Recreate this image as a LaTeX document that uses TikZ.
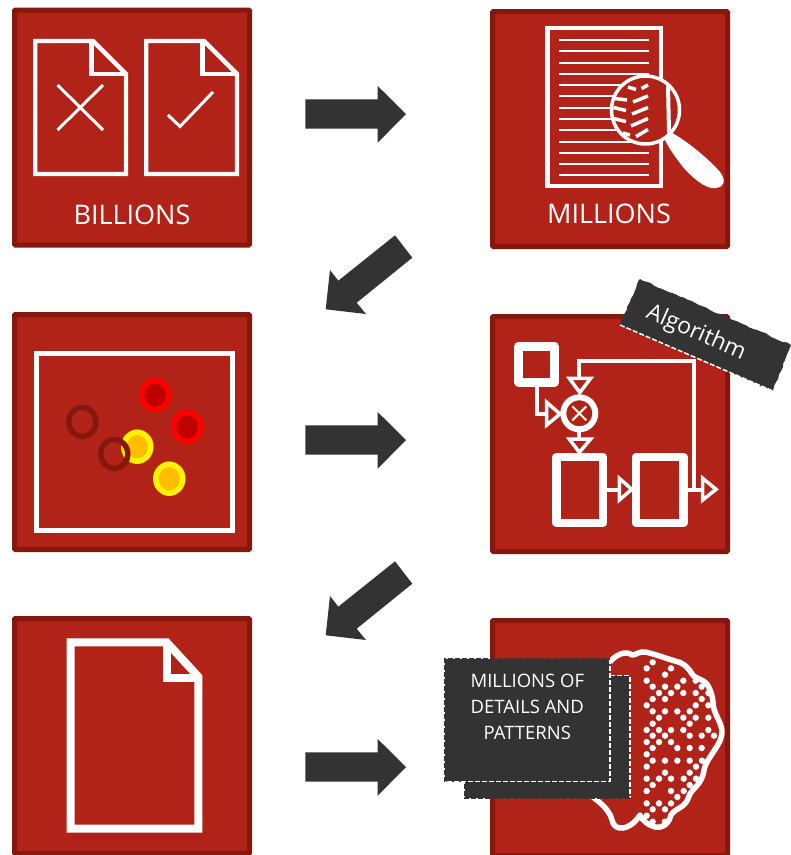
\documentclass[tikz,border=0pt]{standalone}
\usepackage{fontspec}
\setmainfont{Open Sans}
\usetikzlibrary{decorations.pathmorphing}
\definecolor{panelred}{HTML}{B12318}
\definecolor{paneledge}{HTML}{85170D}
\definecolor{slate}{HTML}{333333}
\tikzset{
  panel/.style={rectangle,draw=paneledge,fill=panelred,line width=5pt,rounded corners=1pt,minimum width=235pt,minimum height=235pt,inner sep=0pt,outer sep=0pt},
  bigarrow/.style={fill=slate},
  icon/.style={draw=white,line width=4.3pt,miter limit=10},
  thin/.style={draw=white,line width=4pt,line join=miter},
  tip/.style={draw=white,line width=3.5pt,line join=miter},
  paneltext/.style={text=white,font=\fontsize{27}{32}\selectfont,inner sep=0pt},
  whitedash/.style={draw=white,line width=1.5pt,dash pattern=on 5pt off 2pt},
  darkdash/.style={draw=slate,line width=1.5pt,dash pattern=on 5pt off 2pt},
  ringred/.style={draw=red,fill=red!75!black,line width=5.5pt},
  ringyel/.style={draw=yellow,fill=orange!50!yellow,line width=5.5pt},
  ringdark/.style={draw=paneledge,line width=5.5pt},
}
\begin{document}
\begin{tikzpicture}[x=1pt,y=-1pt]
\clip (0,0) rectangle (791,855);
\fill[white] (0,0) rectangle (791,855);
% panels
\node[panel] (p1) at (132,127.5) {};
\node[panel] (p2) at (610,129) {};
\node[panel] (p3) at (132,432) {};
\node[panel] (p4) at (610,434) {};
\node[panel] (p5) at (132,736) {};
\node[panel] (p6) at (610,738) {};
% block arrows
\foreach \dy in {0,326,653} {
  \fill[bigarrow] (305.3,99.3+\dy) -- (377.7,99.3+\dy) -- (377.7,86+\dy) -- (406,114+\dy) -- (377.7,142.7+\dy) -- (377.7,128.7+\dy) -- (305.3,128.7+\dy) -- cycle;
}
\foreach \dy in {0,326} {
  \fill[bigarrow] (395,235.3+\dy) -- (412.3,257.7+\dy) -- (356.7,302.7+\dy) -- (366,314+\dy) -- (325.7,309.3+\dy) -- (330,270+\dy) -- (338.3,280.7+\dy) -- cycle;
}
% panel 1
\foreach \dx in {0,111} {
  \draw[icon] (35.3+\dx,41) -- (93+\dx,41) -- (126+\dx,74) -- (126+\dx,174) -- (35.3+\dx,174) -- cycle;
  \draw[icon] (91.5+\dx,41) -- (91.5+\dx,74) -- (126+\dx,74);
}
\draw[white,line width=3pt] (57.5,85) -- (103,130) (103,85) -- (57.5,130);
\draw[white,line width=3pt] (168,115) -- (180,126.5) -- (213,92);
\node[paneltext] (t1) at (132,215) {BILLIONS};
% panel 2
\draw[white,line width=4.5pt] (547.5,28) rectangle (661,186);
\foreach \k in {0,...,12} {
  \draw[white,line width=2pt] (559.3,40+11.28*\k) -- (648.7,40+11.28*\k);
}
\fill[panelred] (645.5,110) circle (34pt);
\draw[white,line width=3.5pt] (645.5,110) circle (34pt);
\draw[white,line width=4pt] (668,86) -- (669,132);
\draw[white,line width=3.5pt] (628,87) -- (636,89.5) (641.5,88.5) -- (648,85) (615,98.5) -- (627,100) (633,102) -- (648,96) (613.5,107.5) -- (626,110.5) (632,114) -- (648,107.5) (613.5,118.5) -- (626,121.5) (631,126) -- (648,118.5) (623,133) -- (630,135) (636,136.5) -- (648,129.5);
\fill[white] (668,131) .. controls (680,136) and (705,155) .. (720,172) .. controls (726,180) and (725,187) .. (716,188) .. controls (705,190) and (690,175) .. (683,167) .. controls (676,158) and (670,150) .. (665,140) -- cycle;
\node[paneltext] (t2) at (609,214) {MILLIONS};
% panel 3
\draw[white,line width=5pt] (36,353) rectangle (232,530);
\draw[ringyel] (137.3,446.7) ellipse (13.5pt and 14.5pt);
\draw[ringyel] (169.3,478.7) ellipse (13.5pt and 14.5pt);
\draw[ringred] (155.3,395) ellipse (13.5pt and 14.5pt);
\draw[ringred] (187.3,426.7) ellipse (13.5pt and 14.5pt);
\draw[ringdark] (82.3,422) ellipse (13.5pt and 14.5pt);
\draw[ringdark] (114.3,454) ellipse (13.5pt and 14.5pt);
% panel 4
\draw[white,line width=9pt,line join=round] (518.8,346.2) rectangle (554.5,382.2);
\draw[thin] (536.7,386.7) -- (536.7,414) -- (548,414);
\draw[tip] (546.7,402.3) -- (560,414) -- (546.7,425) -- cycle;
\draw[white,line width=6pt] (579.3,413.3) circle (16pt);
\draw[white,line width=2pt] (572.3,406.3) -- (586.3,420.3) (586.3,406.3) -- (572.3,420.3);
\draw[thin] (579.3,378) -- (579.3,360.7) -- (694.3,360.7) -- (694.3,490);
\draw[tip] (569.3,378.3) -- (590.7,378.3) -- (579.8,392.5) -- cycle;
\draw[thin] (579.3,432) -- (579.3,440);
\draw[tip] (569.3,439) -- (590.7,439) -- (579.3,452.3) -- cycle;
\draw[white,line width=8.7pt,line join=round] (556.7,457) rectangle (603,523);
\draw[white,line width=8.7pt,line join=round] (636,457) rectangle (683.3,523);
\draw[thin] (607.3,490) -- (620,490);
\draw[tip] (619.3,478.3) -- (631.7,489.3) -- (619.3,500) -- cycle;
\draw[thin] (687.7,490) -- (702.7,490);
\draw[tip] (702.7,478.3) -- (716,489.3) -- (702.7,500) -- cycle;
% algorithm label
\coordinate (la) at (640,279);
\coordinate (lb) at (791,345);
\coordinate (lc) at (773,391);
\coordinate (ld) at (620,325);
\fill[slate,decorate,decoration={random steps,segment length=4pt,amplitude=0.8pt}] (la) -- (lb) -- (lc) -- (ld) -- cycle;
\draw[whitedash] (ld) -- (lc);
\node[text=white,rotate=-23.6,font=\fontsize{23}{27}\selectfont,inner sep=0pt] (algo) at (696,333) {Algorithm};
% panel 5
\draw[white,line width=8pt] (70.7,642.3) -- (166.7,642.3) -- (198.3,676.7) -- (198.3,828.7) -- (70.7,828.7) -- cycle;
\draw[white,line width=8pt] (166.7,642.3) -- (166.7,677.7) -- (198.3,677.7);
% panel 6: brain
\draw[white,line width=5.5pt,line join=round] (585,790) .. controls (592,798) and (608,805) .. (612,820) .. controls (614,832) and (630,831) .. (640,815) .. controls (645,826) and (665,836) .. (671,815) .. controls (675,808) and (686,808) .. (689,796) .. controls (692,788) and (702,785) .. (704,770) .. controls (706,758) and (722,745) .. (722,732) .. controls (722,722) and (713,714) .. (713,702) .. controls (712,692) and (708,685) .. (706,683) .. controls (700,678) and (694,678) .. (692,674) .. controls (688,667) and (682,662) .. (675,661) .. controls (665,658) and (655,654) .. (645,652) .. controls (640,651) and (636,655) .. (632,655) .. controls (626,650) and (615,655) .. (610,662);
\foreach \a/\b in {68/52,50/70,123/70,105/89,50/107,160/107,197/107,68/125,105/125,142/125,215/125,87/144,123/144,160/144,197/144,235/144,68/162,105/162,215/162,50/181,197/181,235/181,68/199,105/199,142/199,179/199,87/218,160/218,197/218,235/218,68/236,179/236,50/255,87/255,123/255,160/255,235/255,68/272,105/272,179/272,215/272,252/272,50/291,87/291,123/291,68/309,142/309,179/309,215/309} {
  \fill[white] ({630+\a/3},{645+\b/3}) circle (3.2pt);
}
\foreach \a/\b in {170/28,188/47,225/47,262/47,299/47,336/47,170/65,318/65,225/83,299/83,170/101,207/101,243/101,281/101,318/101,188/120,299/120,170/138,243/138,281/138,262/156,170/175,207/175,243/175,188/193,225/193,170/212,188/230,225/230} {
  \fill[white] ({590+\a/3},{745+\b/3}) circle (3.2pt);
}
% stacked boxes
\fill[slate] (465,675.7) rectangle (630,797.7);
\draw[whitedash] (610,675.7) -- (630,675.7) -- (630,797.7);
\draw[darkdash] (630,798) -- (464.5,798) -- (464.5,781);
\fill[slate] (445,659.3) rectangle (610,781.7);
\draw[whitedash] (610,659.3) -- (610,781.7) -- (445,781.7);
\draw[darkdash] (444.5,781.7) -- (444.5,658.8) -- (610,658.8);
\node[text=white,align=center,font=\fontsize{18.5}{25.8}\selectfont,inner sep=0pt] (boxtext) at (527.3,707) {MILLIONS OF\\DETAILS AND\\PATTERNS};
\end{tikzpicture}
\end{document}
